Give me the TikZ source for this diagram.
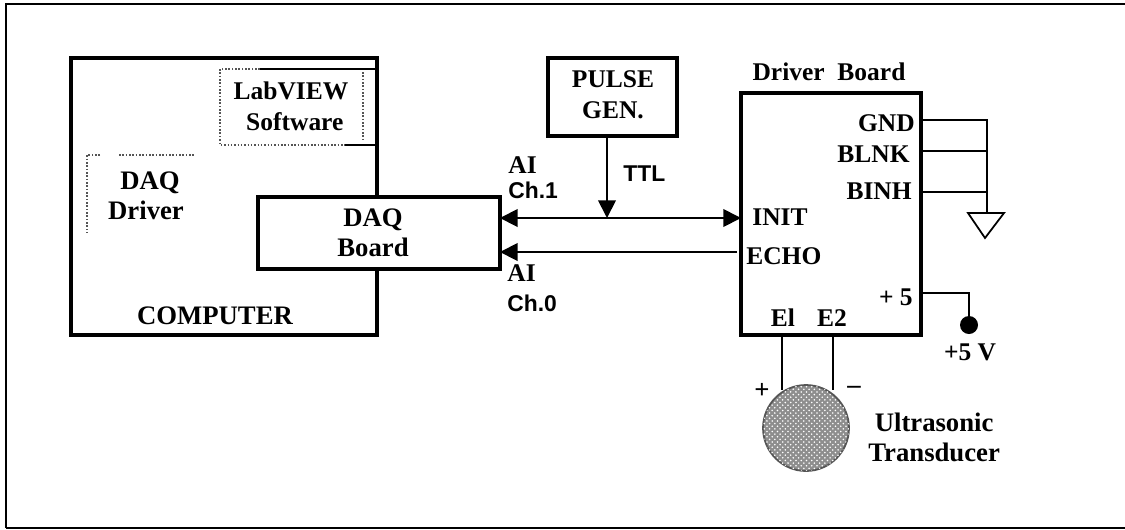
\documentclass[tikz,border=0pt]{standalone}
\usepackage{fontspec}
\setmainfont{Liberation Serif}
\setsansfont{Liberation Sans}
\usetikzlibrary{arrows.meta,patterns}
\definecolor{SpotGray}{HTML}{8E8E8E}
\definecolor{DotGray}{HTML}{555555}
\tikzset{
  heavybox/.style={draw, line width=2.1pt, outer sep=0pt, minimum width=#1},
  lbl/.style={font=\fontsize{14.5}{17.6}\selectfont\bfseries, align=center, inner sep=0pt},
  biglbl/.style={font=\fontsize{15.2}{17.2}\selectfont\bfseries, align=center, inner sep=0pt},
  sanslbl/.style={font=\fontsize{13}{15}\selectfont\sffamily\bfseries, inner sep=0pt},
  wire/.style={line width=1pt},
  dotline/.style={DotGray, line width=0.9pt, densely dotted},
}
\newcommand{\ailbl}[2]{{\fontsize{14.5}{17}\selectfont\bfseries AI}\\[#2]{\fontsize{13}{15}\selectfont\sffamily\bfseries #1}}
\begin{document}
\begin{tikzpicture}[x=0.02cm, y=-0.02cm, >={Triangle[length=10pt,width=10pt]}]
  \useasboundingbox (0,0) rectangle (1125,529);
  \draw[line width=1.3pt] (6,528) -- (6,4) -- (1125,4);
  \draw[line width=1pt] (6,528) -- (1125,528);

  % computer side
  \node[heavybox=6.12cm, minimum height=5.54cm, anchor=north west] (computer) at (71,58) {};
  \node[biglbl] (computerlbl) at (215,316) {COMPUTER};
  \node[lbl] (labview) at (291,106) {LabVIEW\\\hspace*{0.3em}Software};
  \draw[dotline] (260,69) -- (220,69) -- (220,145) -- (345,145);
  \draw[wire] (260,69) -- (375,69) (345,145) -- (375,145);
  \draw[dotline] (363,72) -- (363,141);
  \node[biglbl] (driverlbl) at (146,196) {\hspace*{0.3em}DAQ\\Driver};
  \draw[dotline] (100,155) -- (87,155) -- (87,233);
  \draw[dotline] (119,155) -- (195,155);
  \node[heavybox=4.84cm, minimum height=1.44cm, fill=white, anchor=north west] (daq) at (258,197) {};
  \node[biglbl] (daqlbl) at (373,233) {DAQ\\Board};

  % pulse generator
  \node[heavybox=2.58cm, minimum height=1.56cm, anchor=north west] (pulse) at (548,58) {};
  \node[lbl] (pulselbl) at (613,95) {PULSE\\GEN.};

  % driver board
  \node[heavybox=3.6cm, minimum height=4.84cm, anchor=north west] (driver) at (741,93) {};
  \node[lbl] (boardlbl) at (829,72) {Driver~~Board};
  \node[lbl, anchor=east] (gnd) at (915,123) {GND};
  \node[lbl, anchor=east] (blnk) at (910,154) {BLNK};
  \node[lbl, anchor=east] (binh) at (912,191) {BINH};
  \node[lbl, anchor=west] (init) at (752,217) {INIT};
  \node[lbl, anchor=west] (echo) at (746,256) {ECHO};
  \node[lbl, anchor=east] (plusfive) at (913,297) {+ 5};
  \node[lbl] (eone) at (783,318) {El};
  \node[lbl] (etwo) at (832,318) {E2};

  % signal lines
  \coordinate (tap) at (607,218);
  \coordinate (echoin) at (737,252);
  \draw[wire, <->] (daq.east |- tap) -- (driver.west |- tap);
  \draw[wire, ->] (echoin) -- (daq.east |- echoin);
  \draw[wire, ->] (pulse.south -| tap) -- (tap);
  \node[sanslbl, anchor=west] (ttl) at (623,174) {TTL};
  \node[inner sep=0pt, align=left, anchor=west] (aione) at (508,178) {\ailbl{Ch.1}{2.4pt}};
  \node[inner sep=0pt, align=left, anchor=west] (aizero) at (507,288) {\ailbl{Ch.0}{4.8pt}};

  % ground and supply
  \coordinate (gndrail) at (987,120);
  \coordinate (gndtip) at (987,213);
  \coordinate (blnkout) at (987,151);
  \coordinate (binhout) at (987,192);
  \draw[wire] (driver.east |- gndrail) -- (gndrail) -- (gndtip);
  \draw[wire] (driver.east |- blnkout) -- (blnkout);
  \draw[wire] (driver.east |- binhout) -- (binhout);
  \draw[wire] (968,213) -- (1004,213) -- (985,238) -- cycle;
  \node[circle, fill, minimum size=0.36cm, inner sep=0pt] (supply) at (969,325) {};
  \coordinate (fiveout) at (969,293);
  \draw[wire] (driver.east |- fiveout) -- (fiveout) -- (supply);
  \node[lbl] (supplylbl) at (970,352) {+5 V};

  % transducer
  \node[circle, draw=DotGray, wire, fill=SpotGray, postaction={pattern=crosshatch dots, pattern color=white},
    minimum size=1.72cm, inner sep=0pt] (xducer) at (806,428) {};
  \coordinate (plusend) at (782,390);
  \coordinate (minusend) at (833,390);
  \draw[wire] (driver.south -| plusend) -- (plusend);
  \draw[wire] (driver.south -| minusend) -- (minusend);
  \node[biglbl] (plus) at (762,391) {+};
  \node[biglbl] (minus) at (854,390) {--};
  \node[biglbl, anchor=west] (xducerlbl) at (868,437) {Ultrasonic\\Transducer};
\end{tikzpicture}
\end{document}
